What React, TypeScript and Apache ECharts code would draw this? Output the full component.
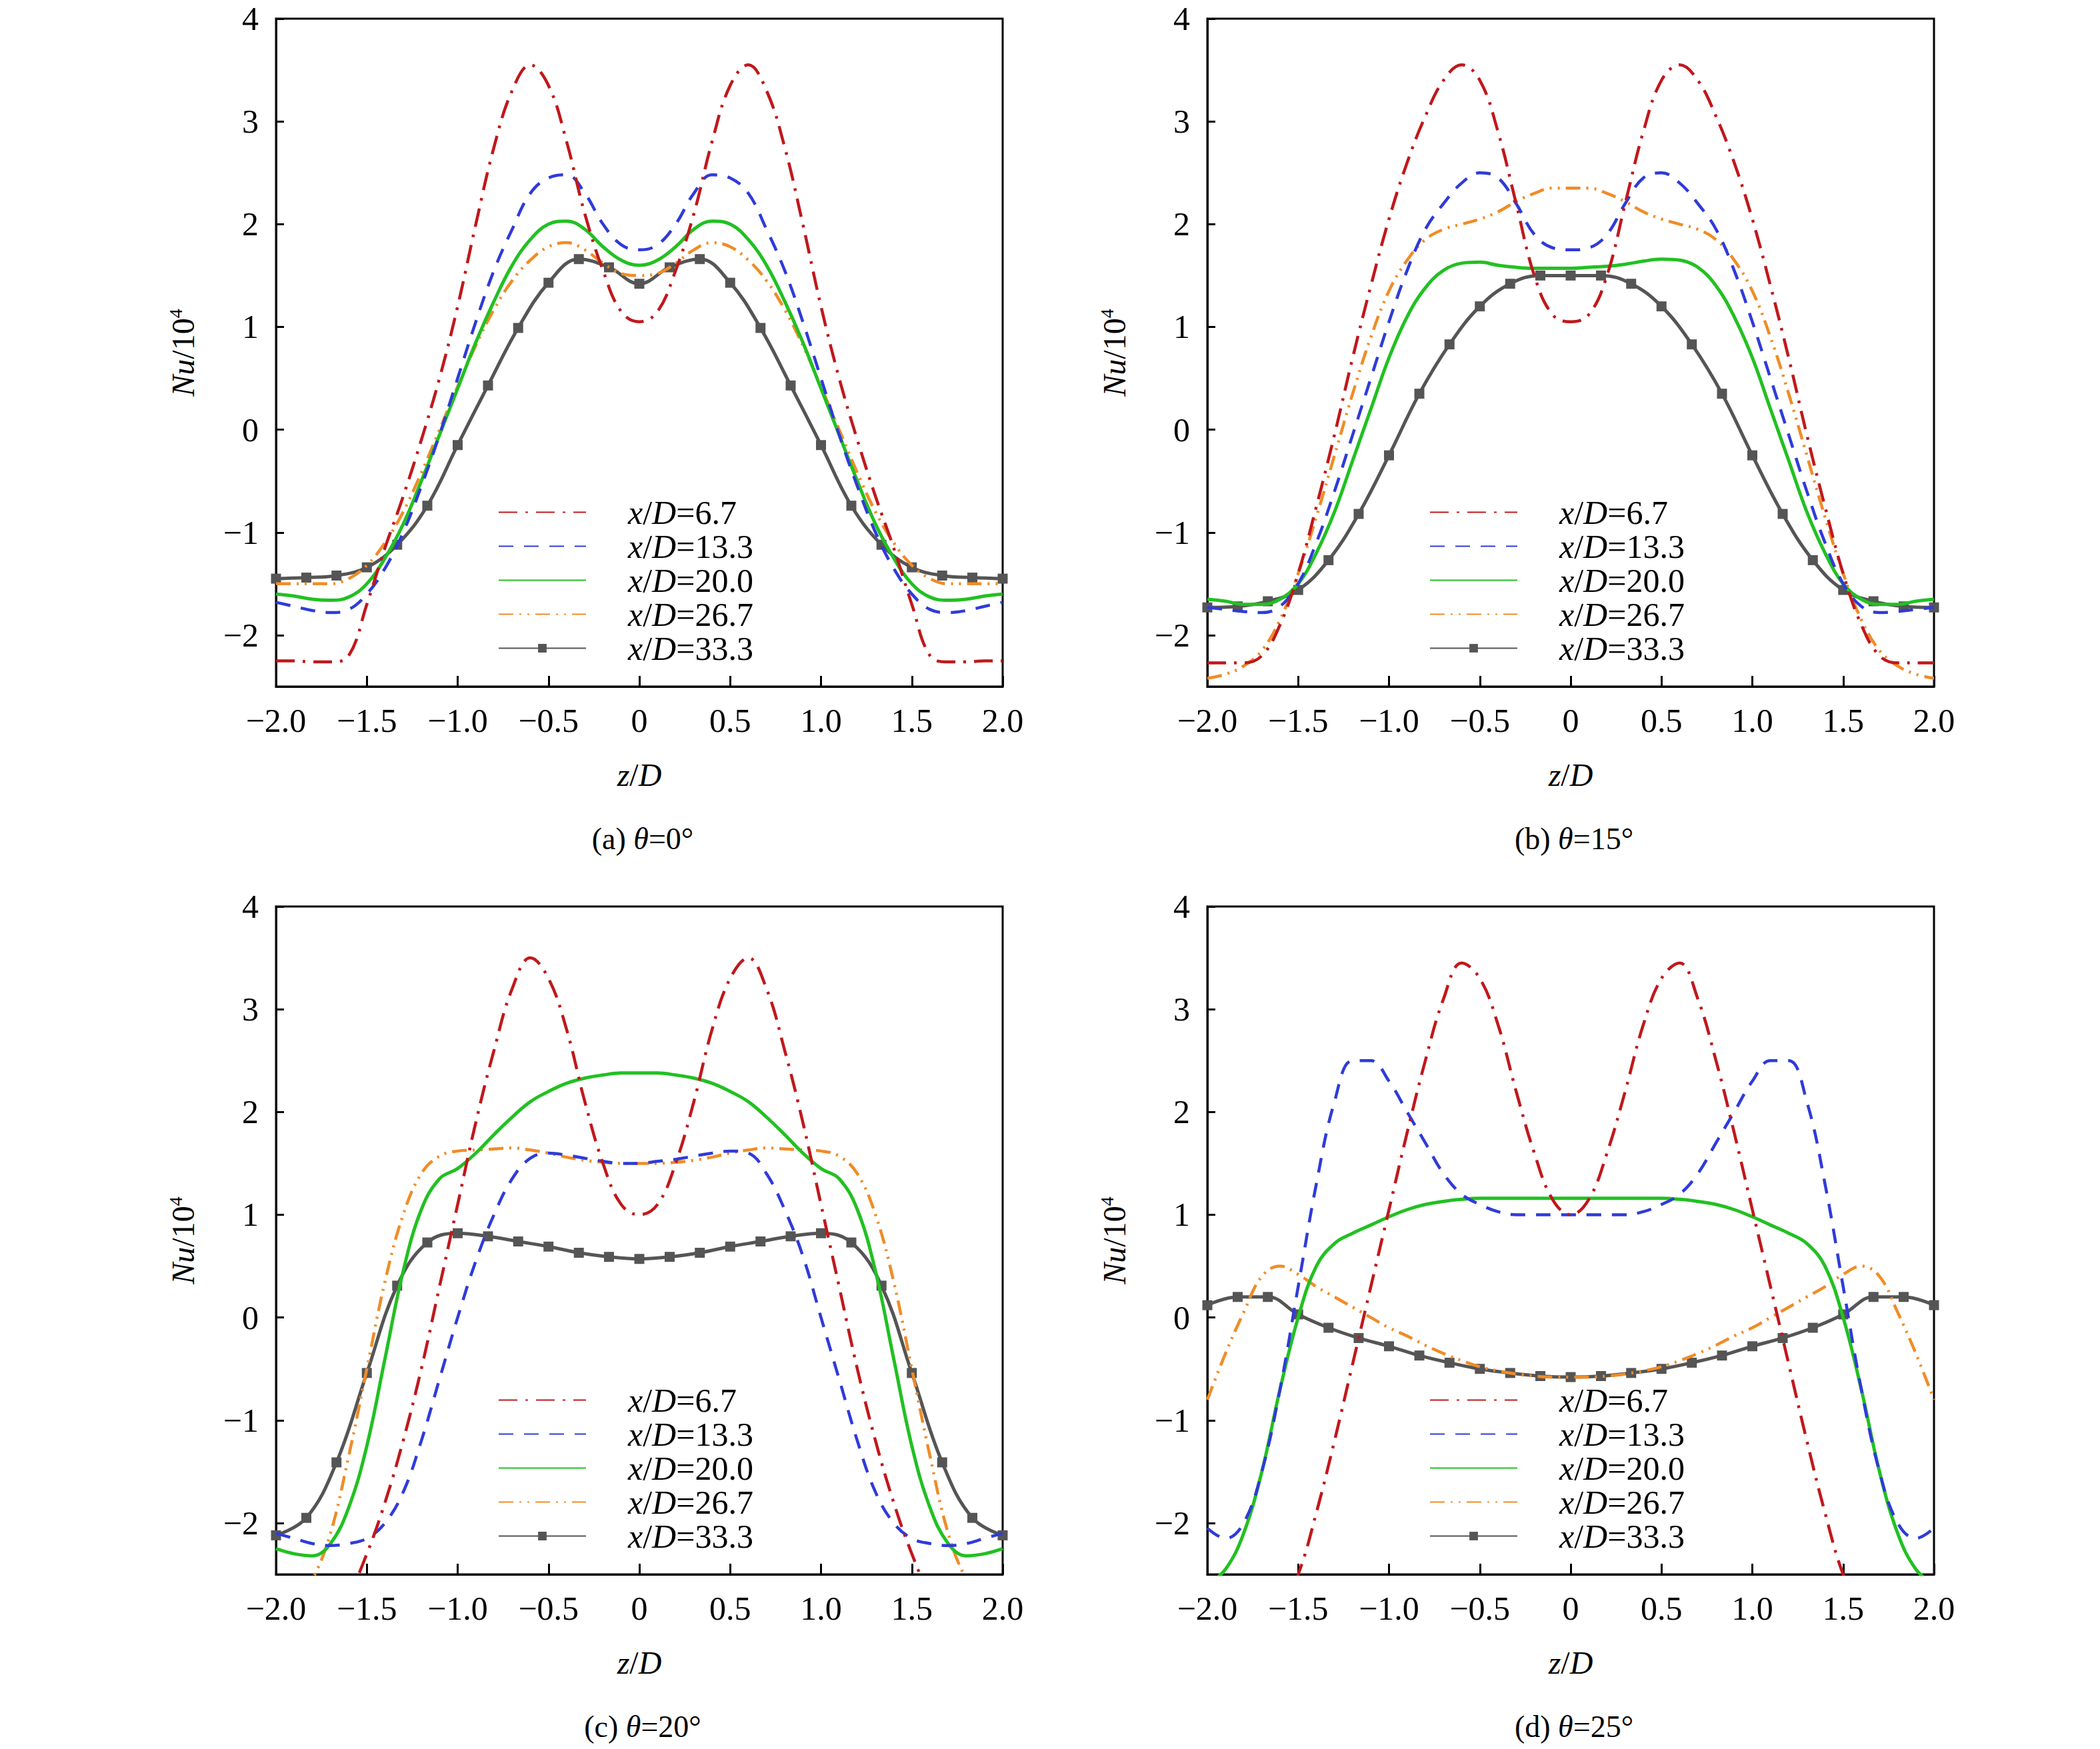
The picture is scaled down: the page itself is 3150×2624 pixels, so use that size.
import { useEffect, useRef } from 'react';
import * as echarts from 'echarts';

// z/D positions
const Z41 = [-2.0, -1.9, -1.8, -1.7, -1.6, -1.5, -1.4, -1.3, -1.2, -1.1, -1.0, -0.9, -0.8, -0.7, -0.6, -0.5, -0.4, -0.3, -0.2, -0.1, 0,
  0.1, 0.2, 0.3, 0.4, 0.5, 0.6, 0.7, 0.8, 0.9, 1.0, 1.1, 1.2, 1.3, 1.4, 1.5, 1.6, 1.7, 1.8, 1.9, 2.0];
const Z25 = [-2.0, -1.833, -1.667, -1.5, -1.333, -1.167, -1.0, -0.833, -0.667, -0.5, -0.333, -0.167, 0,
  0.167, 0.333, 0.5, 0.667, 0.833, 1.0, 1.167, 1.333, 1.5, 1.667, 1.833, 2.0];

const SERIES_NAMES = ['6.7', '13.3', '20.0', '26.7', '33.3'];
const CAPTIONS = ['(a)', '(b)', '(c)', '(d)'];
const ANGLES = ['0°', '15°', '20°', '25°'];
const Y_TICKS = [-2, -1, 0, 1, 2, 3, 4];
const X_TICKS = [-2, -1.5, -1, -0.5, 0, 0.5, 1, 1.5, 2];

// panel (a) θ=0°
const a67 = [-2.25, -2.25, -2.26, -2.26, -2.2, -1.7, -1.15, -0.65, -0.1, 0.5, 1.2, 2.0, 2.75, 3.3, 3.55, 3.35, 2.8, 2.1, 1.55, 1.15, 1.05,
  1.15, 1.55, 2.1, 2.8, 3.35, 3.55, 3.3, 2.75, 2.0, 1.2, 0.5, -0.1, -0.65, -1.15, -1.7, -2.2, -2.26, -2.26, -2.25, -2.25];
const a133 = [-1.68, -1.72, -1.76, -1.78, -1.75, -1.6, -1.35, -1.0, -0.55, -0.05, 0.5, 1.05, 1.55, 1.95, 2.3, 2.45, 2.48, 2.3, 2.0, 1.8, 1.75,
  1.8, 2.0, 2.3, 2.48, 2.45, 2.3, 1.95, 1.55, 1.05, 0.5, -0.05, -0.55, -1.0, -1.35, -1.6, -1.75, -1.78, -1.76, -1.72, -1.68];
const a200 = [-1.6, -1.62, -1.65, -1.66, -1.63, -1.5, -1.25, -0.92, -0.5, -0.05, 0.4, 0.85, 1.25, 1.6, 1.85, 2.0, 2.03, 1.95, 1.78, 1.65, 1.6,
  1.65, 1.78, 1.95, 2.03, 2.0, 1.85, 1.6, 1.25, 0.85, 0.4, -0.05, -0.5, -0.92, -1.25, -1.5, -1.63, -1.66, -1.65, -1.62, -1.6];
const a267 = [-1.5, -1.5, -1.5, -1.5, -1.45, -1.32, -1.1, -0.8, -0.42, 0.0, 0.42, 0.82, 1.17, 1.45, 1.65, 1.78, 1.82, 1.75, 1.62, 1.52, 1.5,
  1.52, 1.62, 1.75, 1.82, 1.78, 1.65, 1.45, 1.17, 0.82, 0.42, 0.0, -0.42, -0.8, -1.1, -1.32, -1.45, -1.5, -1.5, -1.5, -1.5];
const a333 = [-1.45, -1.44, -1.42, -1.34, -1.12, -0.74, -0.15, 0.43, 0.99, 1.43, 1.66, 1.58, 1.42,
  1.58, 1.66, 1.43, 0.99, 0.43, -0.15, -0.74, -1.12, -1.34, -1.42, -1.44, -1.45];

// panel (b) θ=15°
const b67 = [-2.27, -2.27, -2.27, -2.2, -1.9, -1.4, -0.75, -0.05, 0.7, 1.4, 2.05, 2.6, 3.05, 3.4, 3.55, 3.4, 2.9, 2.2, 1.5, 1.12, 1.05,
  1.12, 1.5, 2.2, 2.9, 3.4, 3.55, 3.4, 3.05, 2.6, 2.05, 1.4, 0.7, -0.05, -0.75, -1.4, -1.9, -2.2, -2.27, -2.27, -2.27];
const b133 = [-1.73, -1.75, -1.77, -1.78, -1.72, -1.5, -1.1, -0.6, -0.05, 0.5, 1.05, 1.55, 1.95, 2.2, 2.4, 2.5, 2.45, 2.2, 1.9, 1.77, 1.75,
  1.77, 1.9, 2.2, 2.45, 2.5, 2.4, 2.2, 1.95, 1.55, 1.05, 0.5, -0.05, -0.6, -1.1, -1.5, -1.72, -1.78, -1.77, -1.75, -1.73];
const b200 = [-1.65, -1.67, -1.7, -1.7, -1.65, -1.5, -1.2, -0.8, -0.3, 0.2, 0.7, 1.1, 1.38, 1.55, 1.62, 1.63, 1.6, 1.58, 1.57, 1.57, 1.57,
  1.58, 1.59, 1.61, 1.64, 1.66, 1.65, 1.58, 1.4, 1.1, 0.7, 0.2, -0.3, -0.8, -1.2, -1.5, -1.65, -1.7, -1.7, -1.67, -1.65];
const b267 = [-2.42, -2.38, -2.3, -2.15, -1.85, -1.4, -0.85, -0.25, 0.35, 0.9, 1.35, 1.65, 1.85, 1.95, 2.0, 2.05, 2.12, 2.22, 2.3, 2.35, 2.35,
  2.35, 2.3, 2.22, 2.12, 2.05, 2.0, 1.95, 1.85, 1.65, 1.35, 0.9, 0.35, -0.25, -0.85, -1.4, -1.85, -2.15, -2.3, -2.38, -2.42];
const b333 = [-1.73, -1.72, -1.67, -1.56, -1.27, -0.82, -0.25, 0.35, 0.83, 1.2, 1.42, 1.5, 1.5,
  1.5, 1.42, 1.2, 0.83, 0.35, -0.25, -0.82, -1.27, -1.56, -1.67, -1.72, -1.73];

// panel (c) θ=20°
const c67 = [-3.0, -3.0, -3.0, -2.95, -2.7, -2.3, -1.8, -1.2, -0.5, 0.3, 1.1, 1.9, 2.6, 3.2, 3.5, 3.3, 2.8, 2.1, 1.5, 1.1, 1.0,
  1.1, 1.5, 2.1, 2.8, 3.3, 3.5, 3.2, 2.6, 1.9, 1.1, 0.3, -0.5, -1.2, -1.8, -2.3, -2.7, -2.95, -3.0, -3.0, -3.0];
const c133 = [-2.1, -2.15, -2.2, -2.22, -2.2, -2.15, -2.0, -1.7, -1.2, -0.6, 0.0, 0.55, 1.0, 1.35, 1.55, 1.6, 1.58, 1.55, 1.52, 1.5, 1.5,
  1.52, 1.54, 1.57, 1.6, 1.62, 1.6, 1.4, 1.05, 0.6, 0.0, -0.6, -1.2, -1.7, -2.0, -2.15, -2.2, -2.22, -2.2, -2.15, -2.1];
const c200 = [-2.25, -2.3, -2.32, -2.2, -1.85, -1.25, -0.4, 0.45, 1.05, 1.35, 1.45, 1.6, 1.78, 1.95, 2.1, 2.2, 2.28, 2.33, 2.36, 2.38, 2.38,
  2.38, 2.36, 2.33, 2.28, 2.2, 2.1, 1.95, 1.78, 1.6, 1.45, 1.35, 1.05, 0.45, -0.4, -1.25, -1.85, -2.2, -2.32, -2.3, -2.25];
const c267 = [-2.9, -2.8, -2.55, -2.1, -1.35, -0.5, 0.35, 1.0, 1.4, 1.57, 1.62, 1.63, 1.64, 1.65, 1.63, 1.6, 1.56, 1.53, 1.51, 1.5, 1.5,
  1.5, 1.51, 1.53, 1.56, 1.6, 1.63, 1.65, 1.64, 1.63, 1.62, 1.57, 1.4, 1.0, 0.35, -0.5, -1.35, -2.1, -2.55, -2.8, -2.9];
const c333 = [-2.12, -1.95, -1.41, -0.54, 0.31, 0.73, 0.82, 0.79, 0.74, 0.69, 0.63, 0.59, 0.57,
  0.59, 0.63, 0.69, 0.74, 0.79, 0.82, 0.73, 0.31, -0.54, -1.41, -1.95, -2.12];

// panel (d) θ=25°
const d67 = [-3.0, -3.0, -3.0, -3.0, -2.85, -2.5, -1.9, -1.2, -0.45, 0.3, 1.05, 1.8, 2.5, 3.1, 3.45, 3.3, 2.85, 2.2, 1.6, 1.15, 1.0,
  1.15, 1.6, 2.2, 2.85, 3.3, 3.45, 3.1, 2.5, 1.8, 1.05, 0.3, -0.45, -1.2, -1.9, -2.5, -2.85, -3.0, -3.0, -3.0, -3.0];
const d133 = [-2.05, -2.15, -2.0, -1.5, -0.7, 0.3, 1.3, 2.1, 2.5, 2.5, 2.3, 2.0, 1.7, 1.4, 1.2, 1.1, 1.03, 1.0, 1.0, 1.0, 1.0,
  1.0, 1.0, 1.0, 1.03, 1.1, 1.2, 1.4, 1.7, 2.0, 2.3, 2.5, 2.5, 2.1, 1.3, 0.3, -0.7, -1.5, -2.0, -2.15, -2.05];
const d200 = [-2.6, -2.45, -2.1, -1.5, -0.7, 0.0, 0.5, 0.72, 0.82, 0.9, 0.98, 1.05, 1.1, 1.13, 1.15, 1.16, 1.16, 1.16, 1.16, 1.16, 1.16,
  1.16, 1.16, 1.16, 1.16, 1.16, 1.15, 1.13, 1.1, 1.05, 0.98, 0.9, 0.82, 0.72, 0.5, 0.0, -0.7, -1.5, -2.1, -2.45, -2.6];
const d267 = [-0.8, -0.35, 0.05, 0.4, 0.5, 0.42, 0.3, 0.2, 0.1, 0.0, -0.1, -0.18, -0.27, -0.35, -0.42, -0.48, -0.52, -0.55, -0.57, -0.58, -0.58,
  -0.58, -0.57, -0.55, -0.52, -0.48, -0.42, -0.35, -0.27, -0.18, -0.1, 0.0, 0.1, 0.2, 0.3, 0.42, 0.5, 0.4, 0.05, -0.35, -0.8];
const d333 = [0.12, 0.2, 0.2, 0.03, -0.1, -0.2, -0.28, -0.37, -0.44, -0.5, -0.54, -0.57, -0.58,
  -0.57, -0.54, -0.5, -0.44, -0.37, -0.28, -0.2, -0.1, 0.03, 0.2, 0.2, 0.12];

const PANELS = [
  [a67, a133, a200, a267, a333],
  [b67, b133, b200, b267, b333],
  [c67, c133, c200, c267, c333],
  [d67, d133, d200, d267, d333],
];

const COLORS = ['#c0181c', '#2f3bd8', '#22c022', '#f08c28', '#555555'];
const DASHES: any[] = [[28, 12, 4, 12], [22, 16], 'solid', [22, 9, 3, 9, 3, 9], 'solid'];
const WIDTHS = [4.5, 4.5, 5, 4.5, 5];

const FONT = 'Times New Roman, Liberation Serif, serif';

// grid boxes in px
const GRIDS = [
  { left: 414, top: 28 },
  { left: 1811, top: 28 },
  { left: 414, top: 1360 },
  { left: 1811, top: 1360 },
];
const GW = 1090;
const GH = 1002;

export default function App() {
  const ref = useRef<HTMLDivElement>(null);

  useEffect(() => {
    document.body.style.margin = '0';
    if (!ref.current) return;
    const chart = echarts.init(ref.current, undefined, { renderer: 'svg' });

    const italic = { fontFamily: FONT, fontStyle: 'italic', fontSize: 50, color: '#000' };

    const grid = GRIDS.map((g) => ({
      left: g.left, top: g.top, width: GW, height: GH,
      show: true, borderColor: '#000', borderWidth: 3, backgroundColor: 'transparent',
    }));

    const xAxis = GRIDS.map((_, i) => ({
      type: 'value', gridIndex: i, min: -2, max: 2, interval: 0.5,
      name: '{i|z}/{i|D}', nameLocation: 'middle', nameGap: 108,
      nameTextStyle: { fontFamily: FONT, fontSize: 48, color: '#000', rich: { i: { ...italic, fontSize: 48 } } },
      axisLine: { onZero: false, lineStyle: { color: '#000', width: 3 } },
      axisTick: { inside: true, length: 16, lineStyle: { color: '#000', width: 3 } },
      splitLine: { show: false },
      axisLabel: {
        fontFamily: FONT, fontSize: 50, color: '#000', margin: 26, customValues: X_TICKS,
        formatter: (v: number) => (v === 0 ? '0' : (v < 0 ? '\u2212' : '') + Math.abs(v).toFixed(1)),
      },
    }));

    const yAxis = GRIDS.map((_, i) => ({
      type: 'value', gridIndex: i, min: -2.5, max: 4,
      name: '{i|Nu}/10{s|4}', nameLocation: 'middle', nameGap: 115, nameRotate: 90,
      nameTextStyle: {
        fontFamily: FONT, fontSize: 48, color: '#000',
        rich: { i: { ...italic, fontSize: 48 }, s: { fontFamily: FONT, fontSize: 28, color: '#000', verticalAlign: 'bottom', padding: [0, 0, 22, 0] } },
      },
      axisLine: { onZero: false, lineStyle: { color: '#000', width: 3 } },
      axisTick: { inside: true, length: 12, customValues: Y_TICKS, lineStyle: { color: '#000', width: 3 } },
      splitLine: { show: false },
      axisLabel: {
        fontFamily: FONT, fontSize: 50, color: '#000', margin: 26, customValues: Y_TICKS,
        formatter: (v: number) => (v < 0 ? '\u2212' + Math.abs(v) : String(v)),
      },
    }));

    const series: any[] = [];
    PANELS.forEach((vals, p) => {
      vals.forEach((ys, s) => {
        const zs = s === 4 ? Z25 : Z41;
        series.push({
          name: SERIES_NAMES[s],
          type: 'line',
          xAxisIndex: p, yAxisIndex: p,
          data: zs.map((z, k) => [z, ys[k]]),
          smooth: 0.4,
          symbol: s === 4 ? 'rect' : 'none',
          symbolSize: 15,
          showSymbol: s === 4,
          itemStyle: { color: COLORS[s] },
          lineStyle: { color: COLORS[s], width: WIDTHS[s], type: DASHES[s] },
          z: 10 - s,
          clip: true,
        });
      });
    });

    const legend = GRIDS.map((g) => ({
      data: SERIES_NAMES.map((n, s) => (s === 4 ? { name: n } : { name: n, itemStyle: { opacity: 0 } })),
      orient: 'vertical',
      left: g.left + 328,
      top: g.top + 710,
      itemWidth: 131,
      itemHeight: 16,
      itemGap: 0,
      selectedMode: false,
      textStyle: {
        fontFamily: FONT, fontSize: 50, color: '#000', padding: [0, 0, 0, 58], lineHeight: 51,
        rich: { i: { ...italic, lineHeight: 51 } },
      },
      formatter: (n: string) => '{i|x}/{i|D}=' + n,
    }));

    const title = GRIDS.map((g, i) => ({
      text: CAPTIONS[i] + ' {i|θ}=' + ANGLES[i],
      left: g.left + GW / 2,
      textAlign: 'center',
      top: g.top + GH + 200,
      textStyle: {
        fontFamily: FONT, fontSize: 46, fontWeight: 'normal', color: '#000',
        rich: { i: { ...italic, fontSize: 46 } },
      },
    }));

    chart.setOption({
      animation: false,
      backgroundColor: '#fff',
      textStyle: { fontFamily: FONT },
      grid, xAxis, yAxis, series, legend, title,
    });

    return () => chart.dispose();
  }, []);

  return <div ref={ref} style={{ width: 3150, height: 2624 }} />;
}
